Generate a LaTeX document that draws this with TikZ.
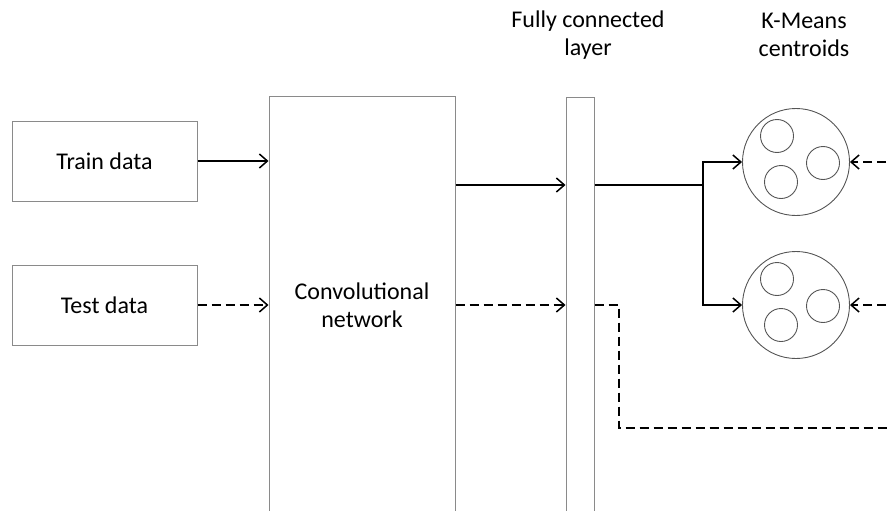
\documentclass[tikz,border=0pt]{standalone}
\usepackage{fontspec}
\setmainfont{Carlito}
\usetikzlibrary{arrows.meta,calc}
\definecolor{edgegray}{HTML}{8A8A8A}
\definecolor{ringgray}{HTML}{555555}
\tikzset{
  x=1pt, y=-1pt,
  every node/.style={font=\fontsize{24}{28}\selectfont},
  block/.style={draw=edgegray, line width=1pt, rectangle, inner sep=0pt, align=center},
  ring/.style={draw=ringgray, line width=0.9pt, circle, inner sep=0pt},
  flow/.style={line width=1.6pt, -{Straight Barb[length=8pt,width=14pt,line width=1.5pt]}},
  plain/.style={line width=1.6pt},
  dashline/.style={dash pattern=on 9pt off 5pt},
  caption/.style={align=center, inner sep=0pt}
}
\begin{document}
\begin{tikzpicture}
\useasboundingbox (0,0) rectangle (891,511);
\clip (0,0) rectangle (891,511);

% input blocks
\node[block, minimum width=185pt, minimum height=80pt] (train) at (104.5,161) {Train data};
\node[block, minimum width=185pt, minimum height=80pt] (test) at (104.5,305) {Test data};

% network and dense layer
\node[block, minimum width=186pt, minimum height=418pt] (conv) at (362,305) {Convolutional\\network};
\node[block, minimum width=28pt, minimum height=440pt] (fc) at (580,317) {};

% headings
\node[caption] (fclabel) at (588,35) {Fully connected\\layer};
\node[caption] (kmlabel) at (804,35) {K-Means\\centroids};

% centroid sets
\node[ring, minimum size=107pt] (c1) at (796,162) {};
\node[ring, minimum size=33pt] (c1a) at (777,136) {};
\node[ring, minimum size=33pt] (c1b) at (823,163) {};
\node[ring, minimum size=33pt] (c1c) at (781,182) {};

\node[ring, minimum size=107pt] (c2) at (796,305) {};
\node[ring, minimum size=33pt] (c2a) at (777,279) {};
\node[ring, minimum size=33pt] (c2b) at (823,306) {};
\node[ring, minimum size=33pt] (c2c) at (781,325) {};

% routing points
\coordinate (j) at (703,185);
\coordinate (ret) at (619,428);
\coordinate (far) at (900,0);

% training path
\draw[flow] (train.east) -- (train.east -| conv.west);
\draw[flow] (j -| conv.east) -- (j -| fc.west);
\draw[plain] (j -| fc.east) -- (j);
\draw[flow] (j) |- (c1.west);
\draw[flow] (j) |- (c2.west);

% test path
\draw[flow, dashline] (test.east) -- (test.east -| conv.west);
\draw[flow, dashline] (test.east -| conv.east) -- (test.east -| fc.west);
\draw[plain, dashline] (test.east -| fc.east) -| (ret) -- (ret -| far);

% incoming from the right
\draw[flow, dashline] (c1.east -| far) -- (c1.east);
\draw[flow, dashline] (c2.east -| far) -- (c2.east);
\end{tikzpicture}
\end{document}
